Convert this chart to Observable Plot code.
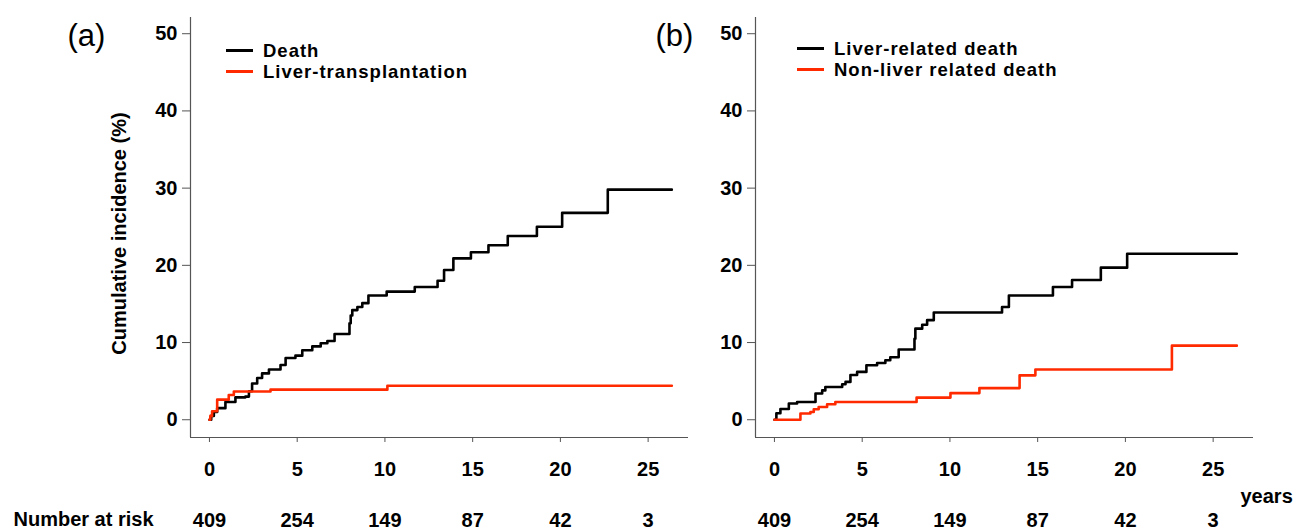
<!DOCTYPE html>
<html>
<head>
<meta charset="utf-8">
<script src="https://cdn.jsdelivr.net/npm/d3@7"></script>
<script src="https://cdn.jsdelivr.net/npm/@observablehq/plot@0.6"></script>
<style>
  body { margin: 0; background: white; }
  #wrap { position: relative; width: 1295px; height: 531px; overflow: hidden; font-family: "Liberation Sans", Arial, sans-serif; }
  .panel { position: absolute; top: 0; }
  .legend { position: absolute; font-weight: bold; font-size: 18.5px; letter-spacing: 1px; color: black; }
  .legend .row { display: flex; align-items: center; height: 21px; white-space: nowrap; }
  .legend .sw { display: inline-block; width: 27px; height: 2.5px; margin-right: 10px; }
  .legend .tx { display: inline-block; line-height: 21px; }
</style>
</head>
<body>
<div id="wrap"></div>
<script>
// ---- data ----
const xTicks = [0, 5, 10, 15, 20, 25];
const yTicks = [0, 10, 20, 30, 40, 50];
const atRisk = [409, 254, 149, 87, 42, 3];
const xDomain = [-1.08, 27.3];
const yDomain = [-2.3, 52.1];
const colors = ["black", "#ff2a00"];

// panel (a)
const seriesA = ["Death", "Liver-transplantation"];
const deathT = [0, 0.1, 0.25, 0.44, 0.91, 1.48, 2.05, 2.25, 2.43, 2.72, 3.0, 3.39, 4.05, 4.34, 4.9, 5.29, 5.86, 6.34, 6.72, 7.13, 7.98, 8.05, 8.14, 8.43, 8.71, 9.06, 10.1, 11.7, 13.0, 13.37, 13.9, 14.9, 15.9, 17.0, 18.66, 20.1, 22.7, 26.35];
const deathV = [0, 0.5, 1.0, 1.5, 2.3, 2.9, 3.0, 3.7, 4.7, 5.4, 6.0, 6.5, 7.1, 8.0, 8.3, 9.0, 9.5, 9.9, 10.2, 11.1, 12.5, 13.5, 14.2, 14.6, 15.1, 16.1, 16.6, 17.2, 18.0, 19.4, 20.9, 21.7, 22.6, 23.8, 25.0, 26.8, 29.8, 29.8];
const transT = [0, 0.05, 0.15, 0.44, 1.1, 1.39, 3.48, 10.14, 26.35];
const transV = [0, 0.5, 1.1, 2.6, 3.2, 3.65, 3.9, 4.4, 4.4];

// panel (b)
const seriesB = ["Liver-related death", "Non-liver related death"];
const liverT = [0, 0.11, 0.34, 0.82, 1.29, 2.34, 2.72, 2.9, 3.86, 4.05, 4.33, 4.71, 5.24, 5.85, 6.32, 6.6, 7.08, 7.98, 8.03, 8.42, 8.7, 9.08, 12.97, 13.36, 15.87, 16.96, 18.6, 20.1, 26.35];
const liverV = [0, 0.85, 1.4, 2.1, 2.3, 3.4, 3.8, 4.25, 4.6, 4.9, 5.8, 6.2, 7.05, 7.35, 7.7, 8.1, 9.1, 10.5, 11.8, 12.3, 12.9, 13.9, 14.6, 16.1, 17.2, 18.1, 19.7, 21.5, 21.5];
const nonLiverT = [0, 1.48, 2.05, 2.24, 2.52, 3.0, 3.47, 8.1, 10.03, 11.68, 13.97, 14.87, 22.65, 26.35];
const nonLiverV = [0, 0.8, 1.0, 1.35, 1.65, 2.0, 2.3, 2.87, 3.45, 4.1, 5.75, 6.5, 9.6, 9.6];

const toRows = (name, T, V) => T.map((t, i) => ({series: name, t, v: V[i]}));

function makePanel({rows, names, tag, yTitle, riskLabel, years}) {
  const marks = [
    Plot.ruleX([xDomain[0]], {stroke: "#555", strokeWidth: 1.2}),
    Plot.ruleY([yDomain[0]], {stroke: "#555", strokeWidth: 1.2}),
    Plot.axisY({ticks: yTicks, tickSize: 8, tickPadding: 5, stroke: "#555", fill: "black", label: null, fontSize: 20}),
    Plot.axisX({ticks: xTicks, tickSize: 5, tickPadding: 19, stroke: "#555", fill: "black", label: null, fontSize: 20}),
    Plot.axisX({ticks: xTicks, tickSize: 0, tickPadding: 75, fill: "black", label: null, fontSize: 20,
      tickFormat: d => String(atRisk[xTicks.indexOf(d)])}),
    Plot.line(rows, {x: "t", y: "v", z: "series", stroke: "series", curve: "step-after", strokeWidth: 2.6}),
    Plot.text([tag], {frameAnchor: "top-left", dx: tag === "(a)" ? -123 : -100, dy: 19, textAnchor: "start", lineAnchor: "middle", fontSize: 31, fontWeight: "normal", fill: "black"})
  ];
  if (yTitle) marks.push(Plot.text([yTitle], {frameAnchor: "left", textAnchor: "middle", lineAnchor: "middle", rotate: -90, dx: -71, dy: 6, fontSize: 20, fill: "black"}));
  if (riskLabel) marks.push(Plot.text([riskLabel], {frameAnchor: "bottom-left", dx: -177, dy: 82, textAnchor: "start", lineAnchor: "middle", fontSize: 20, fill: "black"}));
  if (years) marks.push(Plot.text([years], {frameAnchor: "bottom-right", dx: -13, dy: 59, textAnchor: "start", lineAnchor: "middle", fontSize: 20, fill: "black"}));
  return Plot.plot({
    width: 700, height: 531,
    marginLeft: 190, marginRight: 12, marginTop: 17, marginBottom: 94,
    x: {domain: xDomain},
    y: {domain: yDomain},
    color: {domain: names, range: colors},
    style: {fontFamily: '"Liberation Sans", Arial, sans-serif', fontWeight: "bold", fontSize: "20px", overflow: "visible", background: "transparent", color: "black"},
    marks
  });
}

const wrap = document.getElementById("wrap");

function addPanel(svg, left) {
  const d = document.createElement("div");
  d.className = "panel";
  d.style.left = left + "px";
  d.appendChild(svg);
  wrap.appendChild(d);
}
function addLegend(names, left, top) {
  const lg = document.createElement("div");
  lg.className = "legend";
  lg.style.left = left + "px";
  lg.style.top = top + "px";
  names.forEach((n, i) => {
    const r = document.createElement("div");
    r.className = "row";
    const sw = document.createElement("span");
    sw.className = "sw";
    sw.style.background = colors[i];
    const tx = document.createElement("span");
    tx.className = "tx";
    tx.textContent = n;
    r.appendChild(sw); r.appendChild(tx);
    lg.appendChild(r);
  });
  wrap.appendChild(lg);
}

const rowsA = [...toRows(seriesA[0], deathT, deathV), ...toRows(seriesA[1], transT, transV)];
const rowsB = [...toRows(seriesB[0], liverT, liverV), ...toRows(seriesB[1], nonLiverT, nonLiverV)];

addPanel(makePanel({rows: rowsA, names: seriesA, tag: "(a)", yTitle: "Cumulative incidence (%)", riskLabel: "Number at risk"}), 0);
addPanel(makePanel({rows: rowsB, names: seriesB, tag: "(b)", years: "years"}), 565);
addLegend(seriesA, 226, 40);
addLegend(seriesB, 797, 38);
</script>
</body>
</html>
